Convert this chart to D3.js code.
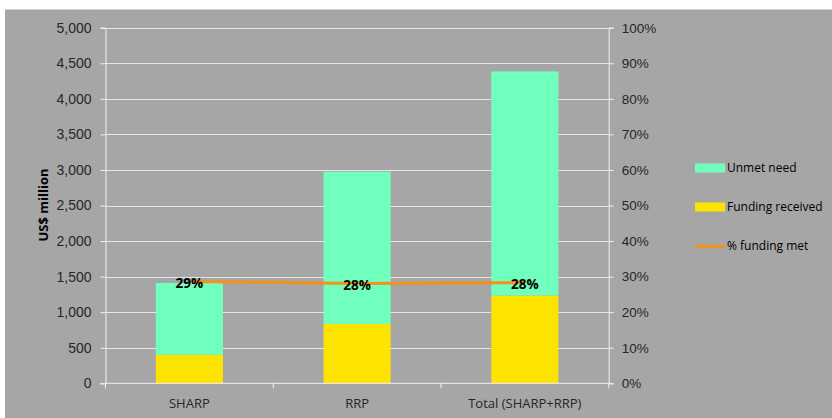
<!DOCTYPE html>
<html>
<head>
<meta charset="utf-8">
<script src="https://cdn.jsdelivr.net/npm/d3@7"></script>
<style>
  html, body { margin: 0; padding: 0; background: #ffffff; }
  svg { display: block; font-family: "Open Sans", "Liberation Sans", sans-serif; }
</style>
</head>
<body>
<svg id="chart" width="832" height="418"></svg>
<script>
// Appeal funding by plan (US$ million) and share of requirements met
const categories = ["SHARP", "RRP", "Total (SHARP+RRP)"];
const fundingReceived = [400, 835, 1235];
const unmetNeed = [1010, 2140, 3150];
const pctFundingMet = [0.286, 0.281, 0.283];
const leftTicks = [0, 500, 1000, 1500, 2000, 2500, 3000, 3500, 4000, 4500, 5000];
const rightTicks = [0, 0.1, 0.2, 0.3, 0.4, 0.5, 0.6, 0.7, 0.8, 0.9, 1.0];
const seriesNames = ["Unmet need", "Funding received", "% funding met"];

const colors = { unmet: "#71ffbd", funding: "#fde400", line: "#f7901e" };

const svg = d3.select("#chart");
const margin = { left: 105.5, right: 608.7, top: 27.7, bottom: 383.3 };

// chart background
svg.append("rect").attr("x", 5).attr("y", 9.5).attr("width", 827).attr("height", 409)
  .attr("fill", "#a6a6a6");

const x = d3.scaleBand().domain(categories)
  .range([margin.left, margin.right]).paddingInner(0.6).paddingOuter(0.3);
const y = d3.scaleLinear().domain([0, 5000]).range([margin.bottom, margin.top]);
const y2 = d3.scaleLinear().domain([0, 1]).range([margin.bottom, margin.top]);

// gridlines
svg.append("g").selectAll("line").data(leftTicks.slice(1)).join("line")
  .attr("x1", margin.left).attr("x2", margin.right)
  .attr("y1", d => Math.round(y(d)) + 0.5).attr("y2", d => Math.round(y(d)) + 0.5)
  .attr("stroke", "#e6e6e6").attr("stroke-width", 1);

// stacked bars
const rows = categories.map((c, i) => ({ cat: c, funding: fundingReceived[i], unmet: unmetNeed[i] }));
const stack = d3.stack().keys(["funding", "unmet"])(rows);
svg.append("g").selectAll("g").data(stack).join("g")
  .attr("fill", d => d.key === "funding" ? colors.funding : colors.unmet)
  .selectAll("rect").data(d => d).join("rect")
  .attr("x", d => x(d.data.cat))
  .attr("width", x.bandwidth())
  .attr("y", d => y(d[1]))
  .attr("height", d => y(d[0]) - y(d[1]));

// left axis
const axisColor = "#f2f2f2";
const textColor = "#262626";
const leftAxis = svg.append("g").attr("transform", `translate(${margin.left},0)`)
  .call(d3.axisLeft(y).tickValues(leftTicks).tickFormat(d3.format(",")).tickSize(5).tickPadding(9));
leftAxis.select(".domain").attr("stroke", axisColor);
leftAxis.selectAll(".tick line").attr("stroke", axisColor);
leftAxis.selectAll("text").attr("fill", textColor).style("font-size", "14px");

// right axis
const rightAxis = svg.append("g").attr("transform", `translate(${margin.right},0)`)
  .call(d3.axisRight(y2).tickValues(rightTicks).tickFormat(d3.format(".0%")).tickSize(5).tickPadding(8));
rightAxis.select(".domain").attr("stroke", axisColor);
rightAxis.selectAll(".tick line").attr("stroke", axisColor);
rightAxis.selectAll("text").attr("fill", textColor).style("font-size", "13.5px");

// bottom axis with ticks between categories
const bottom = svg.append("g");
bottom.append("line").attr("x1", margin.left).attr("x2", margin.right)
  .attr("y1", margin.bottom).attr("y2", margin.bottom).attr("stroke", axisColor);
const step = x.step();
const bounds = d3.range(categories.length + 1).map(i => margin.left + i * step);
bottom.selectAll("line.tk").data(bounds).join("line").attr("class", "tk")
  .attr("x1", d => d).attr("x2", d => d)
  .attr("y1", margin.bottom).attr("y2", margin.bottom + 5).attr("stroke", axisColor);
bottom.selectAll("text").data(categories).join("text")
  .attr("x", d => x(d) + x.bandwidth() / 2).attr("y", 403)
  .attr("text-anchor", "middle").attr("dominant-baseline", "central")
  .attr("fill", textColor).style("font-size", "13px").text(d => d);

// y-axis title
svg.append("text").attr("transform", "translate(43,205) rotate(-90)")
  .attr("text-anchor", "middle").attr("dominant-baseline", "central")
  .attr("fill", "#000").style("font-size", "13px").style("font-weight", "bold")
  .text("US$ million");

// % funding met line
const linePts = categories.map((c, i) => [x(c) + x.bandwidth() / 2, y2(pctFundingMet[i])]);
svg.append("path").attr("d", d3.line()(linePts)).attr("fill", "none")
  .attr("stroke", colors.line).attr("stroke-width", 3);

// value labels
svg.append("g").selectAll("text").data(linePts).join("text")
  .attr("x", d => d[0]).attr("y", d => d[1] + 1.5)
  .attr("text-anchor", "middle").attr("dominant-baseline", "central")
  .attr("fill", "#000").style("font-size", "13.5px").style("font-weight", "bold")
  .text((d, i) => d3.format(".0%")(pctFundingMet[i]));

// legend
const legend = svg.append("g");
const legY = [168, 207, 246.5];
[0, 1].forEach(i => {
  legend.append("rect").attr("x", 695).attr("y", legY[i] - 4.5).attr("width", 30).attr("height", 9)
    .attr("fill", i === 0 ? colors.unmet : colors.funding);
});
legend.append("line").attr("x1", 695).attr("x2", 725).attr("y1", legY[2]).attr("y2", legY[2])
  .attr("stroke", colors.line).attr("stroke-width", 3);
legend.selectAll("text").data(seriesNames).join("text")
  .attr("x", 727).attr("y", (d, i) => legY[i] - 1)
  .attr("dominant-baseline", "central").attr("fill", "#000")
  .style("font-size", "12px").text(d => d);
</script>
</body>
</html>
